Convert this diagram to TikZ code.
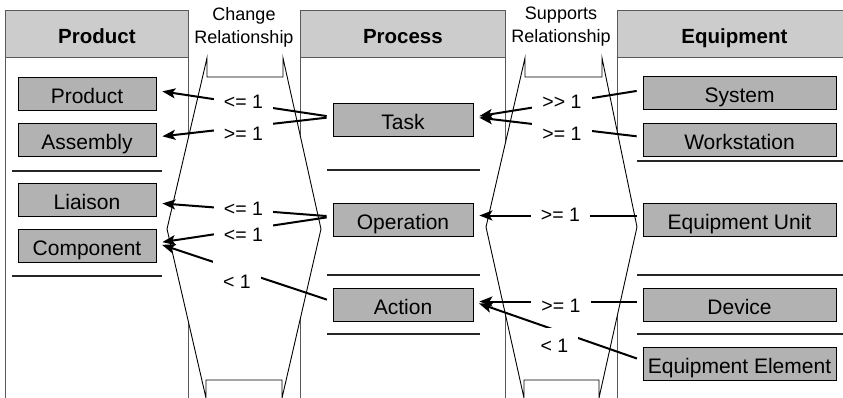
\documentclass[tikz,border=0pt]{standalone}
\usepackage{fontspec}
\setmainfont{Liberation Sans}
\usetikzlibrary{arrows.meta}

\definecolor{boxgray}{gray}{0.70}
\definecolor{headgray}{gray}{0.80}

\begin{document}
\begin{tikzpicture}[x=1pt, y=-1pt,
    column/.style={draw=black!65, line width=0.8pt},
    header/.style={draw=black!65, line width=0.8pt, fill=headgray, anchor=north west, minimum height=47pt, inner sep=0pt, text height=19pt, text depth=0pt, font=\fontsize{20.5}{24}\selectfont\bfseries},
    item/.style={draw, line width=0.8pt, fill=boxgray, minimum height=33pt, inner sep=0pt, text height=19pt, text depth=0pt, font=\fontsize{21}{25}\selectfont},
    link/.style={draw, fill=white, line width=0.9pt},
    sep/.style={draw=black!85, line width=1.5pt},
    rel/.style={fill=white, anchor=base, inner xsep=10pt, inner ysep=5pt, text height=14pt, text depth=0pt, font=\fontsize{19.5}{23}\selectfont},
    title/.style={anchor=north, align=center, inner sep=0pt, font=\fontsize{18}{23}\selectfont},
    arr/.style={-{Stealth[length=13pt,width=10pt,inset=3pt]}, line width=2pt, shorten <=6pt, shorten >=6pt}
]
    \useasboundingbox (0,0) rectangle (843,397);
    \clip (0,0) rectangle (843,397);

    % Columns
    \draw[column] (5,10) rectangle (188,400);
    \draw[column] (300,10) rectangle (505,400);
    \draw[column] (617,10) rectangle (851,400);
    \node[header, minimum width=183pt] (hproduct) at (5,10) {Product};
    \node[header, minimum width=205pt] (hprocess) at (300,10) {Process};
    \node[header, minimum width=234pt] (hequip) at (617,10) {Equipment};

    % Relationship links
    \draw[link] (207,58) -- (207,77) -- (283,77) -- (283,58) -- (321,229) -- (282,398) -- (282,380) -- (206,380) -- (206,398) -- (167,229) -- cycle;
    \draw[link] (525,58) -- (525,77) -- (602,77) -- (602,58) -- (637,227) -- (599,398) -- (599,380) -- (524,380) -- (524,398) -- (486,227) -- cycle;

    % Separators
    \draw[sep] (12,171) -- (162,171);
    \draw[sep] (12,276) -- (162,276);
    \draw[sep] (327,170) -- (480,170);
    \draw[sep] (327,275) -- (480,275);
    \draw[sep] (327,334) -- (480,334);
    \draw[sep] (637,161) -- (843,161);
    \draw[sep] (637,275) -- (843,275);
    \draw[sep] (637,334) -- (843,334);

    % Product items
    \node[item, minimum width=138pt] (product) at (87,93.5) {Product};
    \node[item, minimum width=138pt] (assembly) at (87,140) {Assembly};
    \node[item, minimum width=138pt] (liaison) at (87,200) {Liaison};
    \node[item, minimum width=138pt] (component) at (87,246) {Component};

    % Process items
    \node[item, minimum width=140pt] (task) at (403,120) {Task};
    \node[item, minimum width=140pt] (operation) at (403,219.5) {Operation};
    \node[item, minimum width=140pt] (action) at (403,304.5) {Action};

    % Equipment items
    \node[item, minimum width=193pt] (system) at (739.5,93) {System};
    \node[item, minimum width=193pt] (workstation) at (739.5,140) {Workstation};
    \node[item, minimum width=193pt] (unit) at (739.5,219.5) {Equipment Unit};
    \node[item, minimum width=193pt] (device) at (739.5,304.5) {Device};
    \node[item, minimum width=193pt] (element) at (739.5,363.5) {Equipment Element};

    % Change relationship arrows
    \draw[arr] ([yshift=3pt]task.west) -- ([yshift=3pt]product.east);
    \draw[arr] ([yshift=3pt]task.west) -- ([yshift=3pt]assembly.east);
    \draw[arr] ([yshift=3pt]operation.west) -- ([yshift=-3pt]liaison.east);
    \draw[arr] ([yshift=3pt]operation.west) -- ([yshift=3pt]component.east);
    \draw[arr] ([yshift=3pt]action.west) -- ([yshift=3pt]component.east);

    % Supports relationship arrows
    \draw[arr] ([yshift=3pt]system.west) -- ([yshift=3pt]task.east);
    \draw[arr] ([yshift=3pt]workstation.west) -- ([yshift=3pt]task.east);
    \draw[arr] ([yshift=4pt]unit.west) -- ([yshift=4pt]operation.east);
    \draw[arr] ([yshift=3pt]device.west) -- ([yshift=3pt]action.east);
    \draw[arr] ([yshift=3pt]element.west) -- ([yshift=3pt]action.east);

    % Labels
    \node[title] (change) at (244,7) {Change\\Relationship};
    \node[title] (supports) at (561,7) {Supports\\Relationship};
    \node[rel] (chg1) at (243.5,108) {<= 1};
    \node[rel] (chg2) at (243.5,140) {>= 1};
    \node[rel] (chg3) at (243.5,215) {<= 1};
    \node[rel] (chg4) at (243.5,241) {<= 1};
    \node[rel, text height=24pt] (chg5) at (237,288) {< 1};
    \node[rel] (sup1) at (562,108) {>\kern0pt> 1};
    \node[rel] (sup2) at (562,140) {>= 1};
    \node[rel] (sup3) at (560.5,221) {>= 1};
    \node[rel] (sup4) at (561,312) {>= 1};
    \node[rel, text height=19pt] (sup5) at (554.5,352) {< 1};
\end{tikzpicture}
\end{document}
